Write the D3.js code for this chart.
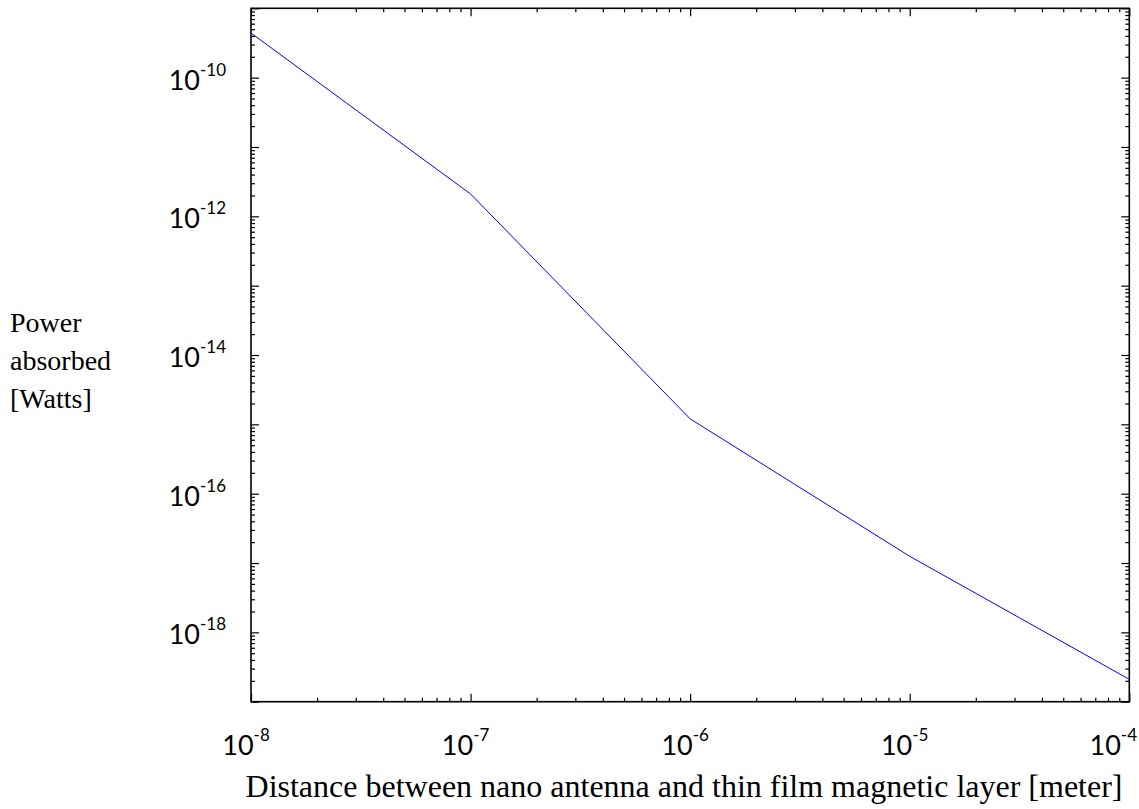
<!DOCTYPE html>
<html><head><meta charset="utf-8">
<script src="https://cdn.jsdelivr.net/npm/d3@7"></script>
<style>body{margin:0;background:#fff}svg{display:block}</style>
</head><body>
<script>
// ---- data ----
const distances = [1e-8, 1e-7, 1e-6, 1e-5, 1e-4];
const power = [4.4e-10, 2.1e-12, 1.2e-15, 1.25e-17, 2.1e-19];
const xTickExps = [-8, -7, -6, -5, -4];
const yTickExps = [-10, -12, -14, -16, -18];
const xTitle = "Distance between nano antenna and thin film magnetic layer [meter]";
const yTitleLines = ["Power", "absorbed", "[Watts]"];

const W = 1139, H = 809;
const m = {left: 251, top: 8.3, right: 1129.3, bottom: 701.7};
const x = d3.scaleLog().domain([1e-8, 1e-4]).range([m.left, m.right]);
const y = d3.scaleLog().domain([1e-19, 1e-9]).range([m.bottom, m.top]);

const svg = d3.select("body").append("svg").attr("width", W).attr("height", H);

const isMajor = v => Math.abs(Math.log10(v) - Math.round(Math.log10(v))) < 1e-6;
const xAll = x.ticks(40), yAll = y.ticks(40);
const xMaj = xAll.filter(isMajor), xMin = xAll.filter(v => !isMajor(v));
const yMaj = yAll.filter(isMajor), yMin = yAll.filter(v => !isMajor(v));

function addAxis(gen, scale, vals, size, tx, ty) {
  const g = svg.append("g").attr("transform", `translate(${tx},${ty})`)
    .call(gen(scale).tickValues(vals).tickSize(size).tickFormat(""));
  g.select(".domain").remove();
  g.selectAll("line").attr("stroke", "#000").attr("stroke-width", 1.2);
}
const MJ = 8, MN = 4;
addAxis(d3.axisBottom, x, xMaj, -MJ, 0, m.bottom);
addAxis(d3.axisBottom, x, xMin, -MN, 0, m.bottom);
addAxis(d3.axisTop, x, xMaj, -MJ, 0, m.top);
addAxis(d3.axisTop, x, xMin, -MN, 0, m.top);
addAxis(d3.axisLeft, y, yMaj, -MJ, m.left, 0);
addAxis(d3.axisLeft, y, yMin, -MN, m.left, 0);
addAxis(d3.axisRight, y, yMaj, -MJ, m.right, 0);
addAxis(d3.axisRight, y, yMin, -MN, m.right, 0);

// frame
svg.append("rect").attr("x", m.left).attr("y", m.top)
  .attr("width", m.right - m.left).attr("height", m.bottom - m.top)
  .attr("fill", "none").attr("stroke", "#000").attr("stroke-width", 1.6);

// line
const pts = distances.map((d, i) => [d, power[i]]);
svg.append("path").datum(pts)
  .attr("d", d3.line().x(d => x(d[0])).y(d => y(d[1])))
  .attr("fill", "none").attr("stroke", "#0000ff").attr("stroke-width", 1);

// tick labels
const font = "Lato, 'Open Sans', sans-serif";
function powLabel(px, py, exp, anchor) {
  const t = svg.append("text").attr("x", px).attr("y", py)
    .attr("font-family", font).attr("fill", "#000").attr("text-anchor", anchor);
  t.append("tspan").attr("font-size", 27).text("10");
  t.append("tspan").attr("font-size", 17).attr("dy", -14).text("-" + Math.abs(exp));
  return t;
}
yTickExps.forEach(e => powLabel(226, y(Math.pow(10, e)) + 12, e, "end"));
xTickExps.forEach((e, i) => {
  const last = i === xTickExps.length - 1;
  powLabel(last ? W - 2 : x(Math.pow(10, e)) - 5, 755, e, last ? "end" : "middle");
});

// axis titles
const serif = "'Liberation Serif', 'Times New Roman', serif";
svg.append("text").attr("x", 684).attr("y", 797)
  .attr("text-anchor", "middle").attr("font-family", serif)
  .attr("font-size", 32).attr("fill", "#000").text(xTitle);
const yt = svg.append("text").attr("font-family", serif)
  .attr("font-size", 28).attr("fill", "#000");
yTitleLines.forEach((s, i) => yt.append("tspan").attr("x", 10).attr("y", 332 + i * 38).text(s));
</script>
</body></html>
